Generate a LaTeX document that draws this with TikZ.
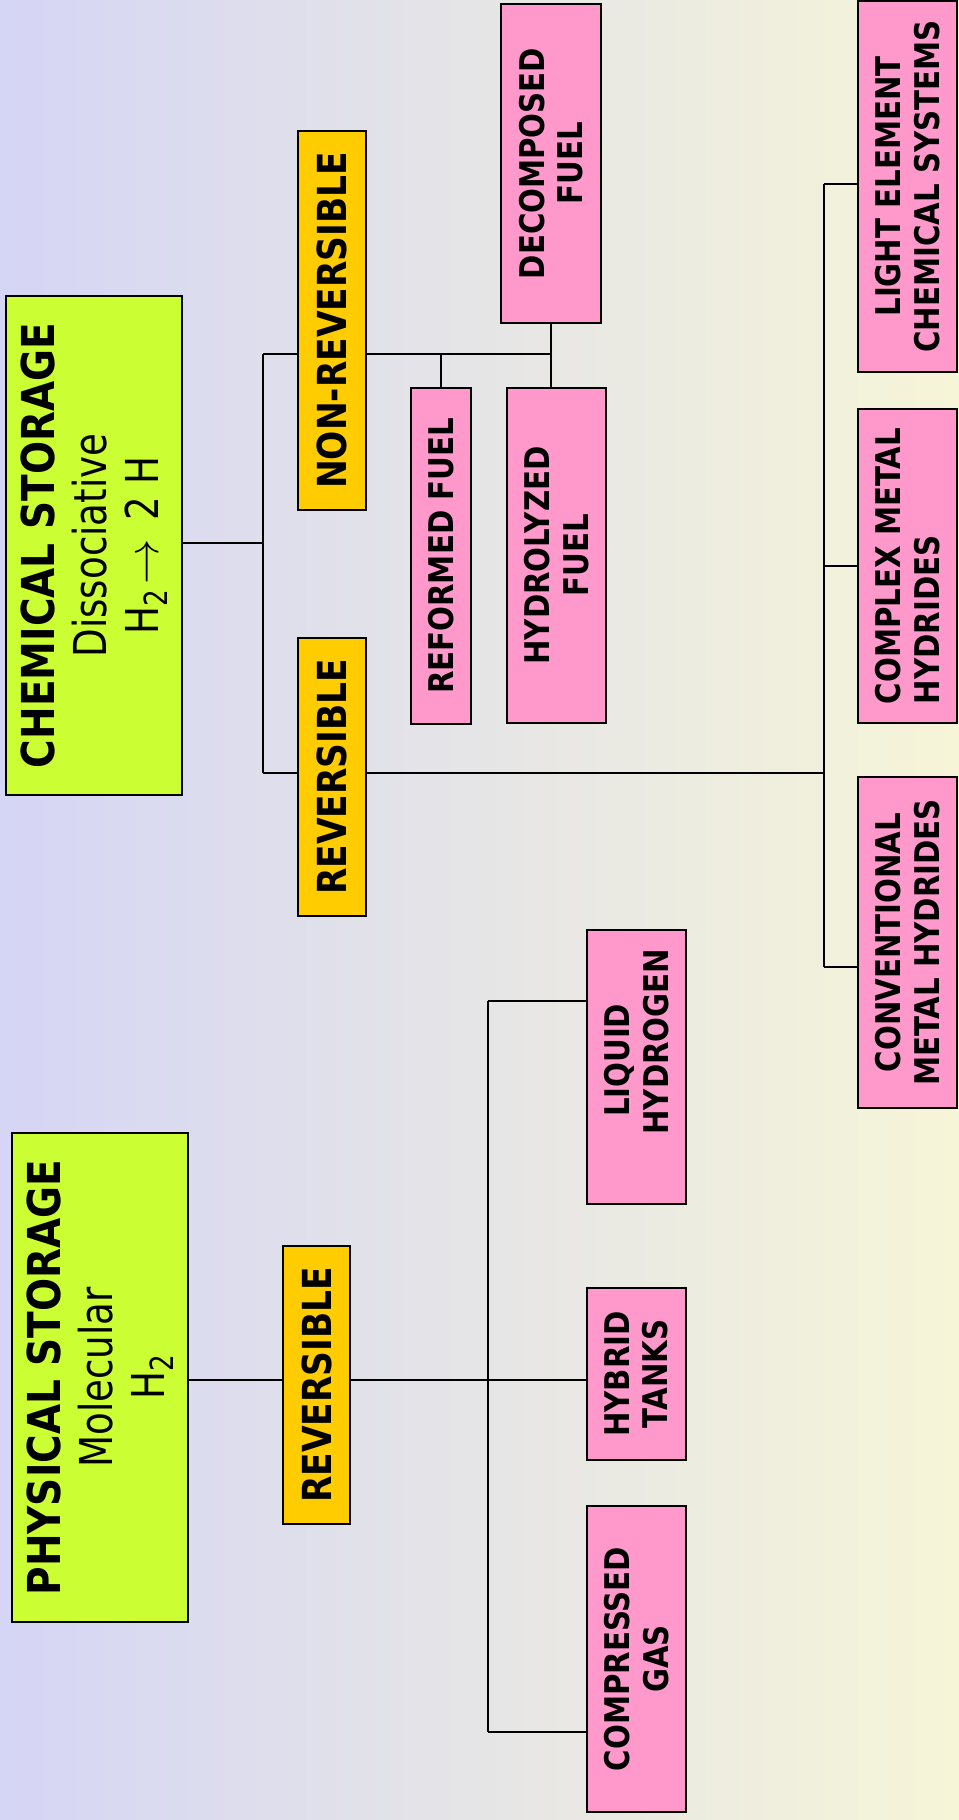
\documentclass[tikz,border=0pt]{standalone}
\usepackage{fontspec}
\setmainfont{DejaVu Sans}
\newfontfamily\headfont[FakeStretch=0.86]{DejaVu Sans}
\newfontfamily\subfont[FakeStretch=0.82]{DejaVu Sans}
\definecolor{bgleft}{RGB}{213,213,245}
\definecolor{bgmid}{RGB}{229,229,229}
\definecolor{bgright}{RGB}{246,245,216}
\definecolor{storegreen}{RGB}{204,255,51}
\definecolor{kindorange}{RGB}{255,204,0}
\definecolor{methodpink}{RGB}{255,153,204}
\newcommand{\molsub}[1]{\raisebox{-0.35ex}{\fontsize{24}{24}\selectfont #1}}
\newcommand{\molarrow}{\resizebox{34pt}{!}{$\rightarrow$}}

\begin{document}
\begin{tikzpicture}[x=0.75pt, y=-0.75pt,
	box/.style={draw, line width=1.5pt, rotate=90, align=center, inner sep=1pt},
	storebox/.style={box, fill=storegreen, minimum height=132pt, font=\headfont\bfseries\fontsize{34}{39}\selectfont},
	kindbox/.style={box, fill=kindorange, font=\headfont\bfseries\fontsize{30}{34}\selectfont},
	methodbox/.style={box, fill=methodpink, minimum height=74.25pt, font=\headfont\bfseries\fontsize{25.5}{29}\selectfont},
	link/.style={line width=1.1pt}]
					\useasboundingbox (0,0) rectangle (959,1820);
					\shade[left color=bgleft, middle color=bgmid, right color=bgright] (0,0) rectangle (959,1820);

					\coordinate (cj) at (263,543);
					\coordinate (ct) at (263,354);
					\coordinate (cb) at (263,773);
					\coordinate (mt) at (824,184);
					\coordinate (mb) at (824,967);
					\coordinate (pj) at (488,1380);
					\coordinate (pt) at (488,1001);
					\coordinate (pb) at (488,1732);

					\node[storebox, minimum width=374.25pt] (chem) at (94,545.5) {CHEMICAL STORAGE\\{\mdseries\subfont Dissociative}\\{\mdseries\subfont H\molsub{2}\hspace{4pt}\molarrow\hspace{14pt}2 H}};
					\node[storebox, minimum width=366.75pt] (phys) at (100,1377.5) {PHYSICAL STORAGE\\{\mdseries\subfont Molecular}\\{\mdseries\subfont H\molsub{2}}};

					\node[kindbox, minimum width=284.25pt, minimum height=51pt] (nonrev) at (332,320.5) {NON-REVERSIBLE};
					\node[kindbox, minimum width=208.5pt, minimum height=51pt] (rev) at (332,777) {REVERSIBLE};
					\node[kindbox, minimum width=208.5pt, minimum height=50.25pt] (prev) at (316.5,1385) {REVERSIBLE};

					\node[methodbox, minimum width=239.25pt, minimum height=75pt] (decomp) at (551,163.5) {DECOMPOSED\\FUEL};
					\node[methodbox, minimum width=252pt, minimum height=45pt] (reform) at (441,556) {REFORMED FUEL};
					\node[methodbox, minimum width=251.25pt] (hydro) at (556.5,555.5) {HYDROLYZED\\FUEL};
					\node[methodbox, minimum width=278.25pt] (light) at (907.5,186.5) {LIGHT ELEMENT\\CHEMICAL SYSTEMS};
					\node[methodbox, minimum width=235.5pt, align=left] (complex) at (907.5,566) {COMPLEX METAL\\HYDRIDES};
					\node[methodbox, minimum width=248.25pt] (conv) at (907.5,942.5) {CONVENTIONAL\\METAL HYDRIDES};
					\node[methodbox, minimum width=205.5pt] (liquid) at (636.5,1067) {\hspace*{10pt}LIQUID\\\hspace*{38pt}HYDROGEN};
					\node[methodbox, minimum width=129pt] (hybrid) at (636.5,1374) {HYBRID\\TANKS};
					\node[methodbox, minimum width=229.5pt] (comp) at (636.5,1659) {COMPRESSED\\GAS};

					\draw[link] (chem.south |- cj) -- (cj);
					\draw[link] (ct) -- (cb);
					\draw[link] (ct) -- (ct -| nonrev.north);
					\draw[link] (cb) -- (cb -| rev.north);
					\draw[link] (nonrev.south |- ct) -- (ct -| decomp.west);
					\draw[link] (decomp.west) -- (decomp.west |- hydro.east);
					\draw[link] (reform.east) -- (reform.east |- ct);
					\draw[link] (rev.south |- cb) -- (cb -| mt);
					\draw[link] (mt) -- (mb);
					\draw[link] (mt) -- (mt -| light.north);
					\draw[link] (complex.north) -- (complex.north -| mt);
					\draw[link] (mb) -- (mb -| conv.north);

					\draw[link] (phys.south |- pj) -- (pj -| prev.north);
					\draw[link] (prev.south |- pj) -- (pj -| hybrid.north);
					\draw[link] (pt) -- (pb);
					\draw[link] (pt) -- (pt -| liquid.north);
					\draw[link] (pb) -- (pb -| comp.north);
				\end{tikzpicture}
\end{document}
